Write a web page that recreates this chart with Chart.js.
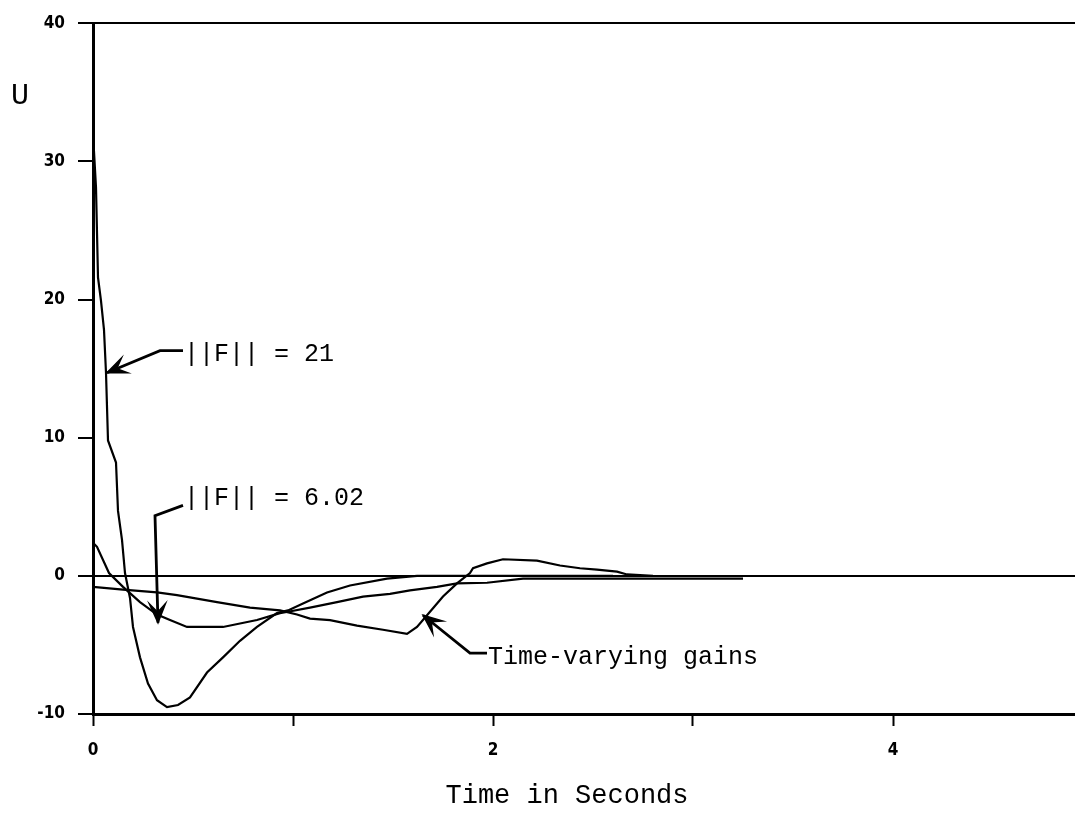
<!DOCTYPE html>
<html>
<head>
<meta charset="utf-8">
<script src="https://cdn.jsdelivr.net/npm/chart.js@4.4.1/dist/chart.umd.min.js"></script>
<style>
  html, body { margin: 0; padding: 0; background: #fff; }
</style>
</head>
<body>
<canvas id="uChart" width="1075" height="819"></canvas>
<script>
// ||F|| = 21
const tF21 = [0, 0.015, 0.025, 0.04, 0.055, 0.065, 0.075, 0.115, 0.125, 0.145, 0.16, 0.185, 0.2, 0.235, 0.275, 0.32, 0.37, 0.425, 0.485, 0.57, 0.65, 0.735, 0.82, 0.92, 0.975, 1.05, 1.17, 1.285, 1.47, 1.62, 2.0, 2.6];
const uF21 = [32, 28.1, 21.6, 19.9, 17.8, 14.7, 9.8, 8.2, 4.7, 2.6, 0.2, -1.6, -3.7, -5.9, -7.8, -9.0, -9.5, -9.35, -8.8, -7.0, -5.9, -4.7, -3.7, -2.7, -2.5, -2.0, -1.2, -0.7, -0.2, 0, 0, 0];

// ||F|| = 6.02
const tF6 = [0, 0.02, 0.08, 0.15, 0.235, 0.32, 0.385, 0.47, 0.65, 0.82, 0.935, 0.975, 1.085, 1.22, 1.35, 1.485, 1.585, 1.72, 1.82, 1.97, 2.15, 2.435, 3.25];
const uF6 = [2.4, 2.1, 0.2, -0.8, -1.9, -2.8, -3.2, -3.7, -3.7, -3.2, -2.7, -2.6, -2.3, -1.9, -1.5, -1.3, -1.05, -0.8, -0.55, -0.5, -0.2, -0.2, -0.2];

// time-varying gains
const tTv = [0, 0.15, 0.32, 0.42, 0.62, 0.785, 0.935, 1.02, 1.085, 1.185, 1.32, 1.45, 1.57, 1.62, 1.685, 1.75, 1.82, 1.885, 1.9, 1.97, 2.05, 2.22, 2.335, 2.435, 2.52, 2.62, 2.67, 2.8];
const uTv = [-0.8, -1.0, -1.2, -1.4, -1.9, -2.3, -2.5, -2.8, -3.1, -3.2, -3.6, -3.9, -4.2, -3.7, -2.6, -1.5, -0.55, 0.2, 0.55, 0.9, 1.2, 1.1, 0.75, 0.55, 0.45, 0.3, 0.1, 0];

const yTickLabels = ['-10', '0', '10', '20', '30', '40'];
const xTickLabels = ['0', '', '2', '', '4'];

const toPoints = (ts, us) => ts.map((t, i) => ({ x: t, y: us[i] }));

// callouts: text, text anchor, elbow and arrow tip, all in data units
const callouts = [
    { text: '||F|| = 21',         at: [0.45, 16.0], path: [[0.45, 16.3], [0.335, 16.3], [0.07, 14.7]] },
    { text: '||F|| = 6.02',       at: [0.45, 5.6],  path: [[0.45, 5.1], [0.31, 4.35], [0.325, -3.4]] },
    { text: 'Time-varying gains', at: [1.97, -5.9], path: [[1.97, -5.6], [1.885, -5.6], [1.65, -2.85]] }
];

const textFont = '"Liberation Mono", "DejaVu Sans Mono", monospace';
const tickFont = { family: '"Liberation Sans Narrow", "DejaVu Sans Condensed", sans-serif', size: 17, weight: 'bold' };

const calloutPlugin = {
    id: 'callouts',
    afterDraw(chart) {
        const { ctx, scales: { x, y } } = chart;
        const px = p => [x.getPixelForValue(p[0]), y.getPixelForValue(p[1])];
        ctx.save();
        ctx.fillStyle = '#000';
        ctx.strokeStyle = '#000';

        callouts.forEach(c => {
            const pts = c.path.map(px);
            ctx.lineWidth = 2.8;
            ctx.beginPath();
            ctx.moveTo(pts[0][0], pts[0][1]);
            for (let i = 1; i < pts.length; i++) ctx.lineTo(pts[i][0], pts[i][1]);
            ctx.stroke();
            // arrow head
            const [tx, ty] = pts[pts.length - 1];
            const [fx, fy] = pts[pts.length - 2];
            const a = Math.atan2(ty - fy, tx - fx);
            const len = 19, half = 8;
            ctx.beginPath();
            ctx.moveTo(tx, ty);
            ctx.lineTo(tx - len * Math.cos(a) + half * Math.sin(a), ty - len * Math.sin(a) - half * Math.cos(a));
            ctx.lineTo(tx - len * 0.55 * Math.cos(a), ty - len * 0.55 * Math.sin(a));
            ctx.lineTo(tx - len * Math.cos(a) - half * Math.sin(a), ty - len * Math.sin(a) + half * Math.cos(a));
            ctx.closePath();
            ctx.fill();
            ctx.lineWidth = 1.5;
            ctx.stroke();

            const [lx, ly] = px(c.at);
            ctx.font = '25px ' + textFont;
            ctx.textAlign = 'left';
            ctx.textBaseline = 'middle';
            ctx.fillText(c.text, lx + 1, ly);
        });

        // axis names
        ctx.font = '30px ' + textFont;
        ctx.textAlign = 'center';
        ctx.textBaseline = 'middle';
        ctx.fillText('U', 20, 96);

        ctx.font = '27px ' + textFont;
        ctx.fillText('Time in Seconds', x.getPixelForValue(2.37), 796);
        ctx.restore();
    }
};

new Chart(document.getElementById('uChart'), {
    type: 'scatter',
    data: {
        datasets: [
            { label: '||F|| = 21', data: toPoints(tF21, uF21) },
            { label: '||F|| = 6.02', data: toPoints(tF6, uF6) },
            { label: 'Time-varying gains', data: toPoints(tTv, uTv) }
        ].map(d => Object.assign(d, {
            showLine: true, borderColor: '#000', borderWidth: 2.2,
            pointRadius: 0, tension: 0, fill: false
        }))
    },
    options: {
        responsive: false,
        animation: false,
        layout: { padding: { top: 22, right: 0, left: 0, bottom: 0 } },
        plugins: { legend: { display: false }, tooltip: { enabled: false } },
        scales: {
            x: {
                type: 'linear', min: 0, max: 4.91, position: 'bottom',
                ticks: {
                    stepSize: 1, includeBounds: false, autoSkip: false, maxRotation: 0,
                    callback: (v, i) => xTickLabels[i] ?? '',
                    color: '#000', font: tickFont, padding: 14
                },
                grid: { drawOnChartArea: false, tickColor: '#000', tickLength: 12, tickWidth: 2 },
                border: { color: '#000', width: 3 },
                afterFit: s => { s.height = 105; }
            },
            y: {
                min: -10, max: 40,
                ticks: {
                    stepSize: 10, autoSkip: false,
                    callback: (v, i) => yTickLabels[i],
                    color: '#000', font: tickFont, padding: 13
                },
                grid: {
                    color: c => (c.tick && (c.tick.value === 0 || c.tick.value === 40)) ? '#000' : 'rgba(0,0,0,0)',
                    lineWidth: 2, tickColor: '#000', tickLength: 15, tickWidth: 2
                },
                border: { color: '#000', width: 3 },
                afterFit: s => { s.width = 93; }
            }
        }
    },
    plugins: [calloutPlugin]
});
</script>
</body>
</html>
